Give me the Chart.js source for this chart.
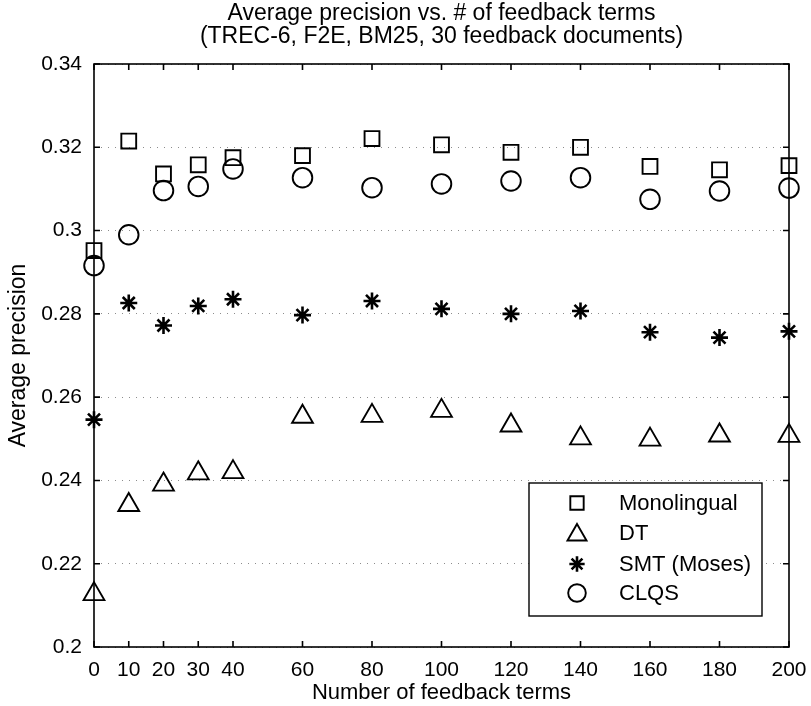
<!DOCTYPE html>
<html>
<head>
<meta charset="utf-8">
<script src="https://cdn.jsdelivr.net/npm/chart.js@4/dist/chart.umd.min.js"></script>
<style>
  html, body { margin: 0; padding: 0; background: #fff; }
  #wrap { width: 811px; height: 706px; }
</style>
</head>
<body>
<div id="wrap"><canvas id="c" width="811" height="706"></canvas></div>
<script>
// ---- data ----
const xTerms = [0, 10, 20, 30, 40, 60, 80, 100, 120, 140, 160, 180, 200];
const monolingual = [0.2952, 0.3215, 0.3136, 0.3158, 0.3175, 0.3180, 0.3221, 0.3206, 0.3188, 0.3200, 0.3154, 0.3146, 0.3156];
const dt = [0.2127, 0.2341, 0.2390, 0.2417, 0.2420, 0.2553, 0.2555, 0.2567, 0.2532, 0.2501, 0.2498, 0.2508, 0.2507];
const smt = [0.2546, 0.2826, 0.2772, 0.2819, 0.2835, 0.2797, 0.2831, 0.2812, 0.2800, 0.2807, 0.2756, 0.2743, 0.2758];
const clqs = [0.2916, 0.2990, 0.3096, 0.3106, 0.3148, 0.3127, 0.3103, 0.3112, 0.3119, 0.3127, 0.3075, 0.3095, 0.3102];
const seriesLabels = ['Monolingual', 'DT', 'SMT (Moses)', 'CLQS'];
const xTickValues = [0, 10, 20, 30, 40, 60, 80, 100, 120, 140, 160, 180, 200];
const xTickLabels = ['0', '10', '20', '30', '40', '60', '80', '100', '120', '140', '160', '180', '200'];
const yTickValues = [0.2, 0.22, 0.24, 0.26, 0.28, 0.3, 0.32, 0.34];
const yTickLabels = ['0.2', '0.22', '0.24', '0.26', '0.28', '0.3', '0.32', '0.34'];
const titleLines = ['Average precision vs. # of feedback terms', '(TREC-6, F2E, BM25, 30 feedback documents)'];
const xTitle = 'Number of feedback terms';
const yTitle = 'Average precision';

const FONT = '"Liberation Sans", Arial, Helvetica, sans-serif';
Chart.defaults.color = '#000';
Chart.defaults.font.family = FONT;

function pts(arr) { return xTerms.map((x, i) => ({ x: x, y: arr[i] })); }

const styles = [
  { pointStyle: 'rect', pointRadius: 10.5, pointBorderWidth: 1.9 },
  { pointStyle: 'triangle', pointRadius: 12, pointBorderWidth: 1.9 },
  { pointStyle: 'star', pointRadius: 8.5, pointBorderWidth: 2.6 },
  { pointStyle: 'circle', pointRadius: 9.8, pointBorderWidth: 1.9 }
];
const values = [monolingual, dt, smt, clqs];

const datasets = values.map((arr, i) => Object.assign({
  label: seriesLabels[i],
  data: pts(arr),
  borderColor: '#000',
  backgroundColor: 'rgba(0,0,0,0)',
  pointBorderColor: '#000',
  pointBackgroundColor: 'rgba(0,0,0,0)',
  pointHoverRadius: styles[i].pointRadius,
  showLine: false,
  clip: false
}, styles[i]));

const framePlugin = {
  id: 'frame',
  afterDatasetsDraw(chart) {
    const ctx = chart.ctx;
    const a = chart.chartArea;
    const xs = chart.scales.x, ys = chart.scales.y;
    ctx.save();
    ctx.strokeStyle = '#000';
    ctx.lineWidth = 1.6;
    ctx.strokeRect(a.left, a.top, a.right - a.left, a.bottom - a.top);
    const tl = 6;
    ctx.beginPath();
    xTickValues.forEach(v => {
      const px = xs.getPixelForValue(v);
      ctx.moveTo(px, a.bottom); ctx.lineTo(px, a.bottom - tl);
      ctx.moveTo(px, a.top); ctx.lineTo(px, a.top + tl);
    });
    yTickValues.forEach(v => {
      const py = ys.getPixelForValue(v);
      ctx.moveTo(a.left, py); ctx.lineTo(a.left + tl, py);
      ctx.moveTo(a.right, py); ctx.lineTo(a.right - tl, py);
    });
    ctx.stroke();
    ctx.restore();
  },
  afterDraw(chart) {
    const ctx = chart.ctx;
    const a = chart.chartArea;
    const w = 233, h = 133;
    const bx = a.right - 27 - w, by = a.bottom - 31 - h;
    ctx.save();
    ctx.fillStyle = '#fff';
    ctx.fillRect(bx, by, w, h);
    ctx.strokeStyle = '#000';
    ctx.lineWidth = 1.4;
    ctx.strokeRect(bx, by, w, h);
    const rows = [20, 50, 81, 110];
    chart.data.datasets.forEach((ds, i) => {
      const cy = by + rows[i];
      ctx.strokeStyle = '#000';
      ctx.fillStyle = 'rgba(0,0,0,0)';
      ctx.lineWidth = ds.pointBorderWidth;
      Chart.helpers.drawPoint(ctx, {
        pointStyle: ds.pointStyle,
        radius: ds.pointStyle === 'triangle' ? 11 : ds.pointRadius * 0.9,
        rotation: 0,
        borderWidth: ds.pointBorderWidth
      }, bx + 48, cy + (ds.pointStyle === 'triangle' ? 2 : 0));
      ctx.fillStyle = '#000';
      ctx.font = '22px ' + FONT;
      ctx.textBaseline = 'middle';
      ctx.textAlign = 'left';
      ctx.fillText(ds.label, bx + 90, cy + 1);
    });
    ctx.restore();
  }
};

new Chart(document.getElementById('c'), {
  type: 'scatter',
  data: { datasets: datasets },
  options: {
    responsive: false,
    animation: false,
    events: [],
    layout: { padding: { left: 0, right: 22, top: 0, bottom: 0 } },
    plugins: {
      legend: { display: false },
      tooltip: { enabled: false },
      title: {
        display: true,
        text: titleLines,
        fullSize: false,
        color: '#000',
        font: { size: 23, weight: 'normal', family: FONT, lineHeight: 1.0 },
        padding: { top: 2, bottom: 16 }
      }
    },
    scales: {
      x: {
        type: 'linear',
        min: 0,
        max: 200,
        afterBuildTicks: s => { s.ticks = xTickValues.map(v => ({ value: v })); },
        afterFit: s => { s.height = 59; s.paddingRight = 0; s.paddingLeft = 0; },
        grid: { display: false, drawTicks: false },
        border: { display: false },
        ticks: {
          autoSkip: false,
          maxRotation: 0,
          padding: 11,
          font: { size: 21 },
          callback: (v, i) => xTickLabels[i]
        },
        title: {
          display: true,
          text: xTitle,
          font: { size: 22 },
          padding: { top: 0, bottom: 0 }
        }
      },
      y: {
        type: 'linear',
        min: 0.2,
        max: 0.34,
        afterBuildTicks: s => { s.ticks = yTickValues.map(v => ({ value: v })); },
        afterFit: s => { s.width = 94; },
        grid: { color: '#8c8c8c', lineWidth: 1, drawTicks: false },
        border: { display: false, dash: [1, 6] },
        ticks: {
          padding: 12,
          font: { size: 21 },
          callback: (v, i) => yTickLabels[i]
        },
        title: {
          display: true,
          text: yTitle,
          font: { size: 23 },
          padding: { top: 5, bottom: 0 }
        }
      }
    }
  },
  plugins: [framePlugin]
});
</script>
</body>
</html>
